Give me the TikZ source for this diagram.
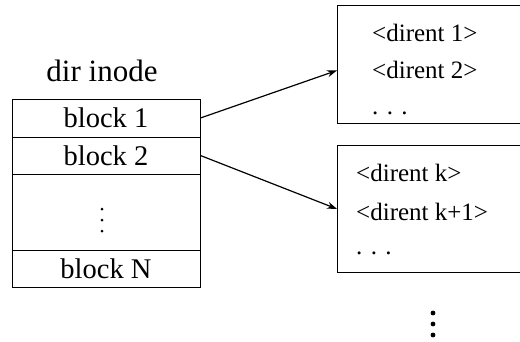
\documentclass[tikz,border=0pt]{standalone}
\usepackage{fontspec}
\setmainfont{Liberation Serif}
\usetikzlibrary{arrows.meta}
\begin{document}
\begin{tikzpicture}[x=1pt,y=-1pt,
  cell/.style={draw, line width=0.9pt, minimum width=188pt, inner sep=0pt, font=\fontsize{28.5}{32}\selectfont},
  rbox/.style={draw, line width=0.9pt, inner sep=0pt, anchor=north west},
  ent/.style={anchor=west, inner sep=0pt, font=\fontsize{25}{30}\selectfont},
  arr/.style={line width=1.2pt, -{Stealth[length=10pt,width=7pt]}}]
\useasboundingbox (0,0) rectangle (520,341);
\clip (0,0) rectangle (520,341);
\node[font=\fontsize{31}{34}\selectfont, inner sep=0pt] (title) at (102,71) {dir inode};
\node[cell, minimum height=38pt] (b1) at (106,118) {block 1};
\node[cell, minimum height=37pt] (b2) at (106,155.5) {block 2};
\node[cell, minimum height=76pt] (bd) at (106,212) {};
\foreach \dy in {-3,8,19} \fill ([xshift=-4pt,yshift=-\dy pt]bd.center) circle (1.5pt);
\node[cell, minimum height=37pt] (bN) at (106,268.5) {block N};
\node[rbox, minimum width=200pt, minimum height=118pt] (r1) at (337,5) {};
\node[rbox, minimum width=200pt, minimum height=127pt] (r2) at (337,145) {};
\node[ent] (e1) at (372,33) {<dirent 1>};
\node[ent] (e2) at (372,70) {<dirent 2>};
\node[ent] (e3) at (372,113) {. . .};
\node[ent] (k1) at (356,173) {<dirent k>};
\node[ent] (k2) at (356,212) {<dirent k+1>};
\node[ent] (k3) at (356,253) {. . .};
\draw[arr] (b1.east) -- ([yshift=-6pt]r1.west);
\draw[arr] (b2.east) -- (r2.west);
\foreach \yy in {313,324,335} \fill (433,\yy) circle (2.4pt);
\end{tikzpicture}
\end{document}
